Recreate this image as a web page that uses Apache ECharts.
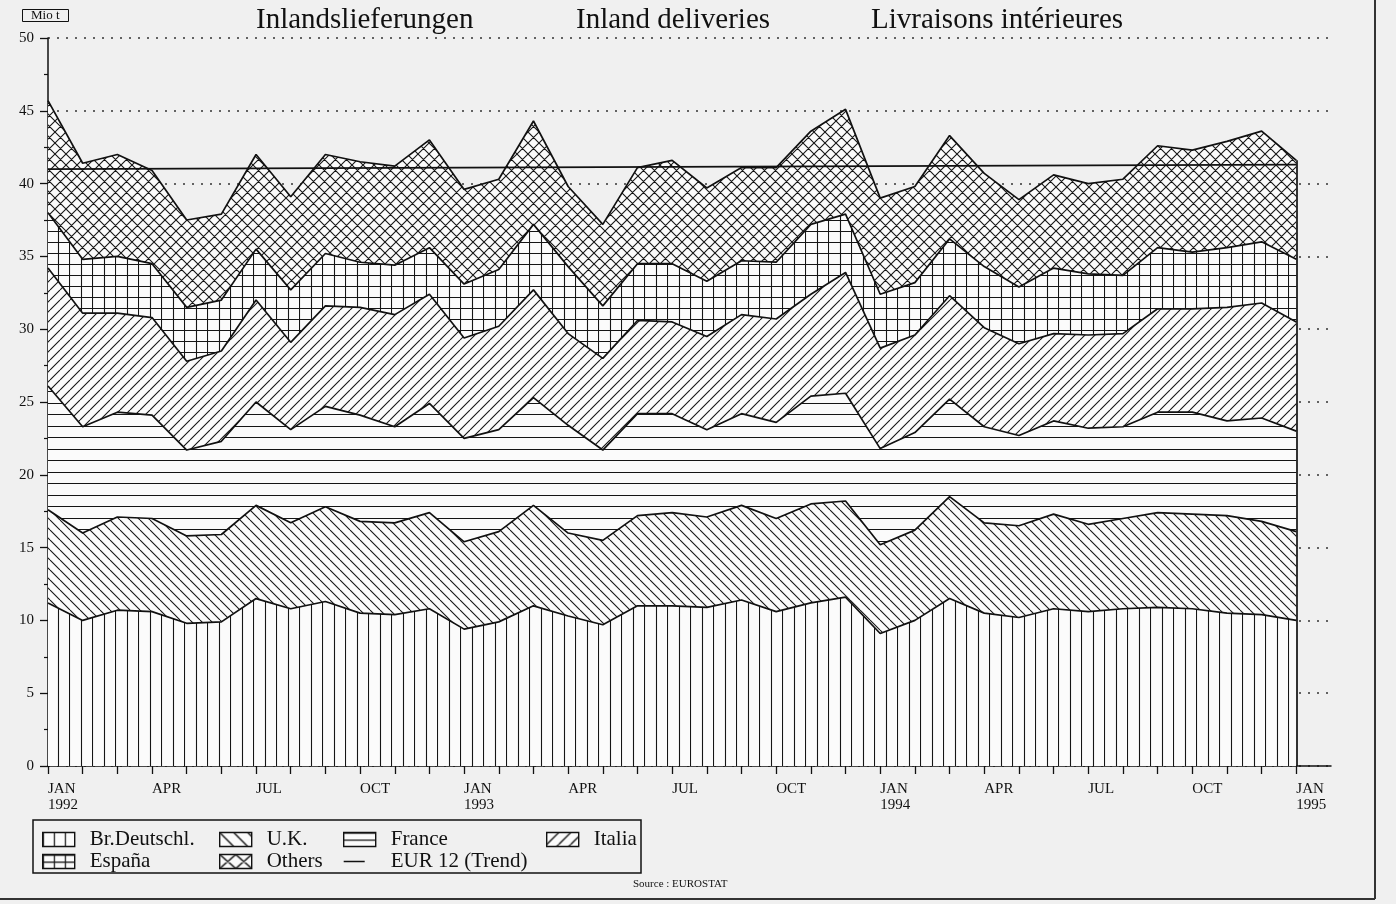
<!DOCTYPE html>
<html>
<head>
<meta charset="utf-8">
<title>Inland deliveries</title>
<script src="https://cdn.jsdelivr.net/npm/echarts@6/dist/echarts.min.js"></script>
<style>
  html, body { margin: 0; padding: 0; background: #f0f0f0; }
  #main { width: 1396px; height: 904px; }
</style>
</head>
<body>
<div id="main"></div>
<script>
// months JAN 1992 .. JAN 1995, plus one empty slot so the axis runs on past the data
var months = [
  'JAN 1992', 'FEB 1992', 'MAR 1992', 'APR 1992', 'MAY 1992', 'JUN 1992',
  'JUL 1992', 'AUG 1992', 'SEP 1992', 'OCT 1992', 'NOV 1992', 'DEC 1992',
  'JAN 1993', 'FEB 1993', 'MAR 1993', 'APR 1993', 'MAY 1993', 'JUN 1993',
  'JUL 1993', 'AUG 1993', 'SEP 1993', 'OCT 1993', 'NOV 1993', 'DEC 1993',
  'JAN 1994', 'FEB 1994', 'MAR 1994', 'APR 1994', 'MAY 1994', 'JUN 1994',
  'JUL 1994', 'AUG 1994', 'SEP 1994', 'OCT 1994', 'NOV 1994', 'DEC 1994',
  'JAN 1995', 'FEB 1995'
];
// one label every 3 months
var quarterLabels = ['JAN\n1992', 'APR', 'JUL', 'OCT', 'JAN\n1993', 'APR', 'JUL', 'OCT',
  'JAN\n1994', 'APR', 'JUL', 'OCT', 'JAN\n1995'];

// Mio t, stacked from the bottom
var deutschl = [11.2, 10.0, 10.7, 10.6, 9.8, 9.9, 11.5, 10.8, 11.3, 10.5, 10.4, 10.8,
  9.4, 9.9, 11.0, 10.3, 9.7, 11.0, 11.0, 10.9, 11.4, 10.6, 11.2, 11.6,
  9.1, 10.0, 11.5, 10.5, 10.2, 10.8, 10.6, 10.8, 10.9, 10.8, 10.5, 10.4, 10.0];
var uk = [6.4, 6.0, 6.4, 6.4, 6.0, 6.0, 6.4, 5.9, 6.5, 6.3, 6.3, 6.6,
  6.0, 6.2, 6.9, 5.7, 5.8, 6.2, 6.4, 6.2, 6.5, 6.4, 6.8, 6.6,
  6.1, 6.2, 7.0, 6.2, 6.3, 6.5, 6.0, 6.2, 6.5, 6.5, 6.7, 6.4, 6.1];
var france = [8.5, 7.3, 7.2, 7.1, 5.9, 6.4, 7.1, 6.4, 6.9, 7.3, 6.6, 7.5,
  7.1, 7.0, 7.4, 7.4, 6.2, 7.0, 6.8, 6.0, 6.3, 6.6, 7.4, 7.4,
  6.6, 6.7, 6.7, 6.6, 6.2, 6.4, 6.6, 6.3, 6.9, 7.0, 6.5, 7.1, 6.9];
var italia = [8.1, 7.8, 6.8, 6.7, 6.1, 6.2, 7.0, 6.0, 6.9, 7.4, 7.7, 7.5,
  6.9, 7.1, 7.4, 6.3, 6.3, 6.4, 6.3, 6.4, 6.8, 7.1, 7.0, 8.3,
  6.9, 6.7, 7.1, 6.8, 6.3, 6.0, 6.4, 6.4, 7.1, 7.1, 7.8, 7.9, 7.5];
var espana = [3.8, 3.7, 3.9, 3.7, 3.7, 3.5, 3.5, 3.6, 3.6, 3.1, 3.4, 3.2,
  3.7, 3.9, 4.5, 4.6, 3.6, 3.9, 4.0, 3.8, 3.7, 3.9, 4.8, 4.0,
  3.7, 3.6, 3.9, 4.2, 3.9, 4.5, 4.2, 4.0, 4.2, 3.9, 4.1, 4.2, 4.3];
var others = [7.7, 6.6, 7.0, 6.4, 6.0, 5.9, 6.5, 6.4, 6.8, 6.9, 6.8, 7.4,
  6.5, 6.2, 7.1, 5.5, 5.6, 6.6, 7.1, 6.4, 6.4, 6.5, 6.4, 7.2,
  6.6, 6.6, 7.1, 6.4, 6.0, 6.4, 6.2, 6.6, 7.0, 7.0, 7.3, 7.6, 6.8];
// EUR 12 trend: straight line, only its two ends are given
var trend = [41.0, null, null, null, null, null, null, null, null, null, null, null,
  null, null, null, null, null, null, null, null, null, null, null, null,
  null, null, null, null, null, null, null, null, null, null, null, null, 41.3];

var FONT = 'Liberation Serif';
var INK = '#111';

// hatch fills
function hatch(w, h, lw, draw) {
  var c = document.createElement('canvas');
  c.width = w;
  c.height = h;
  var g = c.getContext('2d');
  g.fillStyle = '#fbfbfb';
  g.fillRect(0, 0, w, h);
  g.strokeStyle = '#151515';
  g.lineWidth = lw;
  g.beginPath();
  draw(g, w, h);
  g.stroke();
  return { image: c, repeat: 'repeat' };
}
function vLines(xs) {
  return function (g, w, h) { xs.forEach(function (x) { g.moveTo(x, 0); g.lineTo(x, h); }); };
}
function hLines(ys) {
  return function (g, w, h) { ys.forEach(function (y) { g.moveTo(0, y); g.lineTo(w, y); }); };
}
function back(g, w, h) {
  for (var k = -1; k <= 1; k++) { g.moveTo(k * w, 0); g.lineTo(k * w + w, h); }
}
function fwd(g, w, h) {
  for (var k = -1; k <= 1; k++) { g.moveTo(k * w, h); g.lineTo(k * w + w, 0); }
}
function both(g, w, h) { back(g, w, h); fwd(g, w, h); }

// fills for the plot
var patVert = hatch(23, 4, 1.1, vLines([0.5, 12.5]));
var patHoriz = hatch(4, 23, 1.1, hLines([0.5, 12.5]));
var patBack = hatch(10, 10, 1.1, back);
var patFwd = hatch(10, 10, 1.1, fwd);
var patGrid = hatch(23, 22, 1.1, function (g, w, h) {
  vLines([0.5, 12.5])(g, w, h);
  hLines([0.5, 11.5])(g, w, h);
});
var patCross = hatch(11, 11, 1.1, both);

// coarser fills for the legend keys
var keyVert = hatch(11, 4, 1.4, vLines([0.5]));
var keyHoriz = hatch(4, 7, 1.4, hLines([0.5]));
var keyBack = hatch(14, 14, 1.4, back);
var keyFwd = hatch(12, 12, 1.4, fwd);
var keyGrid = hatch(11, 7, 1.4, function (g, w, h) {
  vLines([0.5])(g, w, h);
  hLines([0.5])(g, w, h);
});
var keyCross = hatch(16, 14, 1.4, both);

function band(name, values, fill) {
  return {
    name: name,
    type: 'line',
    stack: 'total',
    data: values,
    symbol: 'none',
    showSymbol: false,
    lineStyle: { color: INK, width: 1.7 },
    itemStyle: { color: INK },
    areaStyle: { color: fill, opacity: 1 },
    emphasis: { disabled: true },
    silent: true
  };
}

var last = 36;
var totalLast = deutschl[last] + uk[last] + france[last] + italia[last] + espana[last] + others[last];

var chart = echarts.init(document.getElementById('main'));

var legendText = { fontFamily: FONT, fontSize: 21, color: INK, lineHeight: 20, padding: [0, 0, 0, 10] };
function legendCol(left, items) {
  return {
    orient: 'vertical',
    left: left,
    top: 829,
    padding: 0,
    itemWidth: 32,
    itemHeight: 14,
    itemGap: 1,
    selectedMode: false,
    textStyle: legendText,
    data: items
  };
}
function boxItem(name, fill) {
  return { name: name, icon: 'rect', itemStyle: { color: fill, borderColor: INK, borderWidth: 1.4 } };
}
var titleText = { fontFamily: FONT, fontSize: 29, fontWeight: 'normal', color: INK };

chart.setOption({
  backgroundColor: '#f0f0f0',
  animation: false,
  title: [
    { text: 'Mio t', left: 22, top: 9, padding: [0, 9, 0, 9], borderColor: INK, borderWidth: 1,
      textStyle: { fontFamily: FONT, fontSize: 13, fontWeight: 'normal', color: INK } },
    { text: 'Inlandslieferungen', left: 256, top: 6, padding: 0, textStyle: titleText },
    { text: 'Inland deliveries', left: 576, top: 6, padding: 0, textStyle: titleText },
    { text: 'Livraisons intérieures', left: 871, top: 6, padding: 0, textStyle: titleText },
    { text: 'Source : EUROSTAT', left: 633, top: 879, padding: 0,
      textStyle: { fontFamily: FONT, fontSize: 11, fontWeight: 'normal', color: INK } }
  ],
  legend: [
    legendCol(42, [boxItem('Br.Deutschl.', keyVert), boxItem('España', keyGrid)]),
    legendCol(219, [boxItem('U.K.', keyBack), boxItem('Others', keyCross)]),
    legendCol(343, [boxItem('France', keyHoriz),
      { name: 'EUR 12 (Trend)', icon: 'path://M0,0L0.01,0M32,14L32.01,14M0,6.3H21V7.7H0Z',
        itemStyle: { color: INK, borderWidth: 0 } }]),
    legendCol(546, [boxItem('Italia', keyFwd)])
  ],
  grid: { left: 48, right: 65, top: 38, bottom: 138, containLabel: false },
  xAxis: {
    type: 'category',
    data: months,
    boundaryGap: false,
    axisLine: { lineStyle: { color: INK, width: 1.5 } },
    axisTick: {
      interval: function (i) { return i <= 36; },
      length: 8,
      lineStyle: { color: INK, width: 1.3 }
    },
    axisLabel: {
      interval: function (i) { return i % 3 === 0 && i <= 36; },
      formatter: function (v, i) { return quarterLabels[i / 3]; },
      align: 'left',
      margin: 15,
      fontFamily: FONT,
      fontSize: 15,
      lineHeight: 16,
      color: INK
    },
    splitLine: { show: false }
  },
  yAxis: {
    type: 'value',
    min: 0,
    max: 50,
    interval: 5,
    axisLine: { show: true, lineStyle: { color: INK, width: 1.5 } },
    axisTick: { show: true, length: 8, lineStyle: { color: INK, width: 1.3 } },
    minorTick: { show: true, splitNumber: 2, length: 4, lineStyle: { color: INK, width: 1.2 } },
    axisLabel: { margin: 14, fontFamily: FONT, fontSize: 15, color: INK },
    splitLine: { show: true, lineStyle: { color: '#333', width: 1.5, type: [2, 7] } }
  },
  series: [
    band('Br.Deutschl.', deutschl, patVert),
    band('U.K.', uk, patBack),
    band('France', france, patHoriz),
    band('Italia', italia, patFwd),
    band('España', espana, patGrid),
    band('Others', others, patCross),
    {
      name: 'EUR 12 (Trend)',
      type: 'line',
      data: trend,
      connectNulls: true,
      symbol: 'none',
      showSymbol: false,
      z: 5,
      lineStyle: { color: INK, width: 1.7 },
      itemStyle: { color: INK },
      emphasis: { disabled: true },
      silent: true,
      markLine: {
        silent: true,
        symbol: ['none', 'none'],
        label: { show: false },
        lineStyle: { color: INK, width: 1.7, type: 'solid' },
        data: [[{ coord: [months[last], 0] }, { coord: [months[last], totalLast] }]]
      }
    }
  ],
  graphic: [
    { type: 'rect', shape: { x: 33, y: 820, width: 608, height: 53 },
      style: { fill: null, stroke: INK, lineWidth: 1.5 }, silent: true },
    { type: 'line', shape: { x1: 1375, y1: 0, x2: 1375, y2: 899 },
      style: { stroke: '#333', lineWidth: 2 }, silent: true },
    { type: 'line', shape: { x1: 0, y1: 899, x2: 1375, y2: 899 },
      style: { stroke: '#333', lineWidth: 2 }, silent: true }
  ]
});
</script>
</body>
</html>
